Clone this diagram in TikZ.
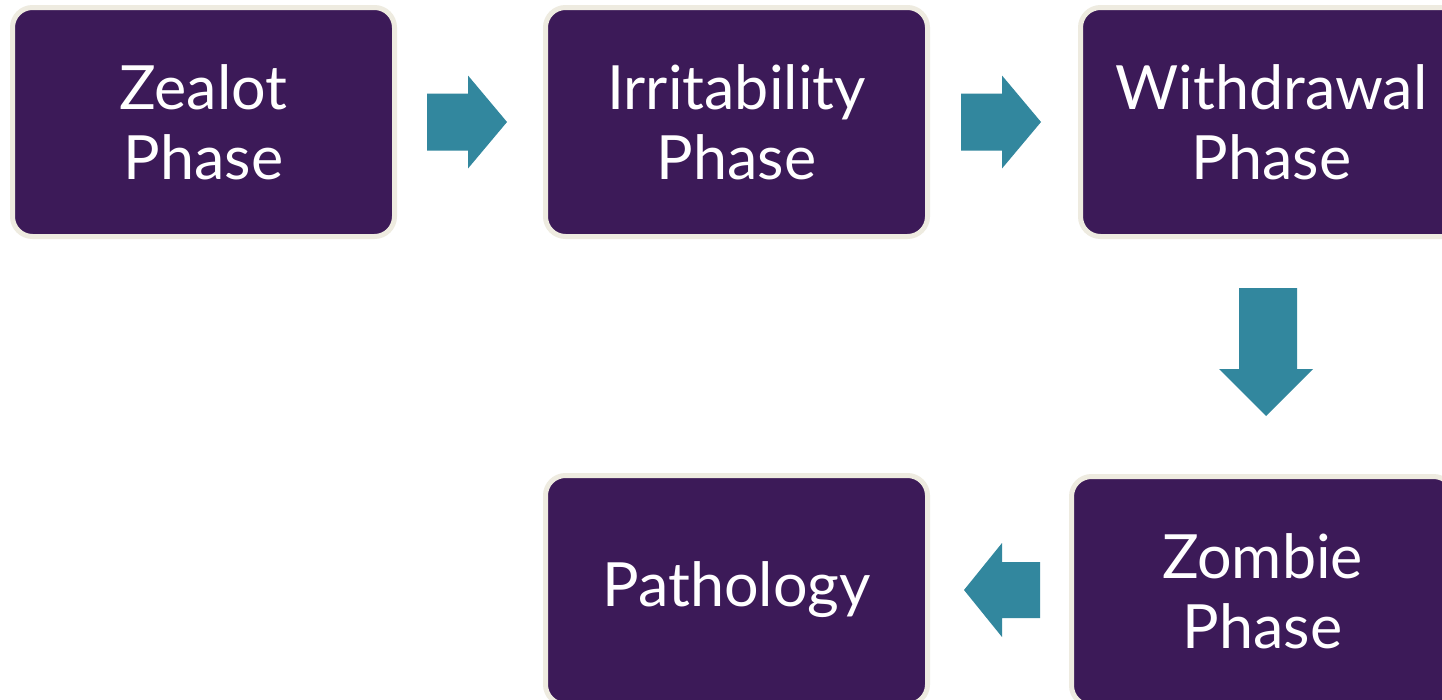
\documentclass[tikz,border=0pt]{standalone}
\usepackage{fontspec}
\setmainfont{Lato}
\definecolor{boxpurple}{RGB}{60,26,88}
\definecolor{boxcream}{RGB}{238,235,224}
\definecolor{arrowteal}{RGB}{50,135,158}
\tikzset{
  phasebox/.style={draw=boxcream, line width=5pt, fill=boxpurple, rounded corners=20pt,
    minimum width=382pt, minimum height=229pt, inner sep=0pt, text=white, align=center,
    font=\fontsize{61}{70}\selectfont},
  blockarrow/.style={fill=arrowteal, draw=none}
}
\begin{document}
\begin{tikzpicture}[x=1pt,y=-1pt]
\useasboundingbox (0,0) rectangle (1442,699);
\clip (0,0) rectangle (1442,699);
\fill[white] (0,0) rectangle (1442,699);
\node[phasebox] (zealot) at (203.5,122) {Zealot\\Phase};
\node[phasebox] (irrit) at (736.5,122) {Irritability\\Phase};
\node[phasebox] (withd) at (1271.5,122) {Withdrawal\\Phase};
\node[phasebox] (zombie) at (1262.5,591) {Zombie\\Phase};
\node[phasebox] (patho) at (736.5,590) {Pathology};
% right arrows
\coordinate (a1) at (467,122);
\coordinate (a2) at (1001,122);
\foreach \c in {a1,a2}{
  \fill[blockarrow,shift={(\c)}] (-40,-28.5) -- (1,-28.5) -- (1,-46.5) -- (40,0) -- (1,46.5) -- (1,28.5) -- (-40,28.5) -- cycle;
}
% down arrow
\coordinate (a3) at (1266,352);
\fill[blockarrow,shift={(a3)}] (-27,-64) -- (31,-64) -- (31,17) -- (47,17) -- (0,64) -- (-47,17) -- (-27,17) -- cycle;
% left arrow
\coordinate (a4) at (1002,590);
\fill[blockarrow,shift={(a4)}] (38,-28) -- (0,-28) -- (0,-47) -- (-38,0) -- (0,47) -- (0,28) -- (38,28) -- cycle;
\end{tikzpicture}
\end{document}
